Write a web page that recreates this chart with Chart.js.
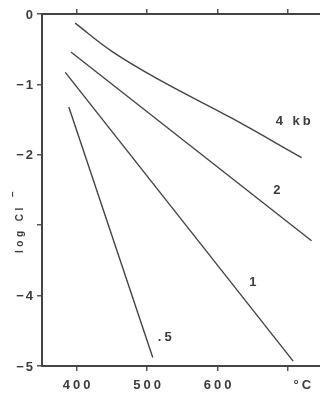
<!DOCTYPE html>
<html>
<head>
<meta charset="utf-8">
<script src="https://cdn.jsdelivr.net/npm/chart.js"></script>
<style>
  html, body { margin: 0; padding: 0; background: #fff; }
  #wrap { width: 320px; height: 393px; position: relative; }
</style>
</head>
<body>
<div id="wrap"><canvas id="grafico"></canvas></div>
<script>
// temperatura (°C) y log Cl- para cada presión
const temp4 = [398, 450, 520, 620, 719];
const logCl4 = [-0.13, -0.53, -0.95, -1.48, -2.04];
const temp2 = [392, 733];
const logCl2 = [-0.54, -3.22];
const temp1 = [384, 707];
const logCl1 = [-0.83, -4.93];
const temp05 = [389, 508];
const logCl05 = [-1.32, -4.88];

// etiquetas de las curvas (texto, temperatura, log Cl-)
const etiquetas = ["4 kb", "2", "1", ".5"];
const etiquetaT = [707, 684, 650, 525];
const etiquetaC = [-1.53, -2.5, -3.81, -4.59];

const xTicks = [400, 500, 600, 700];
const yTicks = [0, -1, -2, -3, -4, -5];
const xMin = 351, xMax = 745;

const gris = "#3c3c3c";
const fuente = "bold 13px 'Liberation Sans', Arial, sans-serif";

function puntos(xs, ys) {
    return xs.map((x, i) => ({ x: x, y: ys[i] }));
}

function serie(xs, ys, curva) {
    return {
        data: puntos(xs, ys),
        showLine: true,
        borderColor: "#444",
        borderWidth: 1.4,
        pointRadius: 0,
        fill: false,
        tension: curva ? 0.4 : 0
    };
}

const ejeX = {
    type: "linear",
    min: xMin,
    max: xMax,
    afterBuildTicks: s => { s.ticks = xTicks.map(v => ({ value: v })); },
    ticks: { display: true, color: "rgba(0,0,0,0)", callback: () => "" },
    grid: { drawOnChartArea: false, drawTicks: true, tickLength: 5, color: "#555", lineWidth: 1.5 },
    border: { display: true, color: "#444", width: 2 }
};

const textos = {
    id: "textos",
    afterDraw(chart) {
        const ctx = chart.ctx;
        const x = chart.scales.x;
        const y = chart.scales.y;
        ctx.save();
        ctx.fillStyle = gris;
        ctx.font = fuente;
        ctx.letterSpacing = "3px";
        ctx.textBaseline = "middle";

        // etiquetas eje x
        ctx.textAlign = "center";
        xTicks.forEach(v => {
            if (v === 700) return;
            ctx.fillText(String(v), x.getPixelForValue(v) + 1.5, 385);
        });
        ctx.fillText("°C", x.getPixelForValue(720) + 1.5, 385);

        // etiquetas eje y
        ctx.textAlign = "right";
        ctx.letterSpacing = "2px";
        yTicks.forEach(v => {
            if (v === -3) return;
            const t = v === 0 ? "0" : "\u2212" + Math.abs(v);
            ctx.fillText(t, 35, y.getPixelForValue(v) + 1);
        });

        // etiquetas de curvas
        ctx.textAlign = "center";
        ctx.letterSpacing = "3px";
        etiquetas.forEach((t, i) => {
            ctx.fillText(t, x.getPixelForValue(etiquetaT[i]) + 1.5, y.getPixelForValue(etiquetaC[i]));
        });

        // título eje y
        ctx.font = "bold 10px 'Liberation Sans', Arial, sans-serif";
        ctx.letterSpacing = "3.5px";
        ctx.translate(20, 253);
        ctx.rotate(-Math.PI / 2);
        ctx.textAlign = "left";
        ctx.fillText("log Cl", 0, 0);
        ctx.fillText("\u2212", 56, -7);
        ctx.restore();
    }
};

const ctx = document.getElementById("grafico").getContext("2d");
new Chart(ctx, {
    type: "scatter",
    data: {
        datasets: [
            serie(temp4, logCl4, true),
            serie(temp2, logCl2, false),
            serie(temp1, logCl1, false),
            serie(temp05, logCl05, false)
        ]
    },
    options: {
        responsive: true,
        maintainAspectRatio: false,
        animation: false,
        layout: { padding: 0 },
        plugins: { legend: { display: false }, tooltip: { enabled: false } },
        scales: {
            x: Object.assign({}, ejeX, { position: "bottom", afterFit: s => { s.height = 27; } }),
            xTop: Object.assign({}, ejeX, { position: "top", afterFit: s => { s.height = 14; } }),
            y: {
                type: "linear",
                position: "left",
                min: -5,
                max: 0,
                afterBuildTicks: s => { s.ticks = yTicks.map(v => ({ value: v })); },
                afterFit: s => { s.width = 42; },
                ticks: { display: false },
                grid: { drawOnChartArea: false, drawTicks: true, tickLength: 5, color: "#555", lineWidth: 1.5 },
                border: { display: true, color: "#444", width: 2 }
            }
        }
    },
    plugins: [textos]
});
</script>
</body>
</html>
